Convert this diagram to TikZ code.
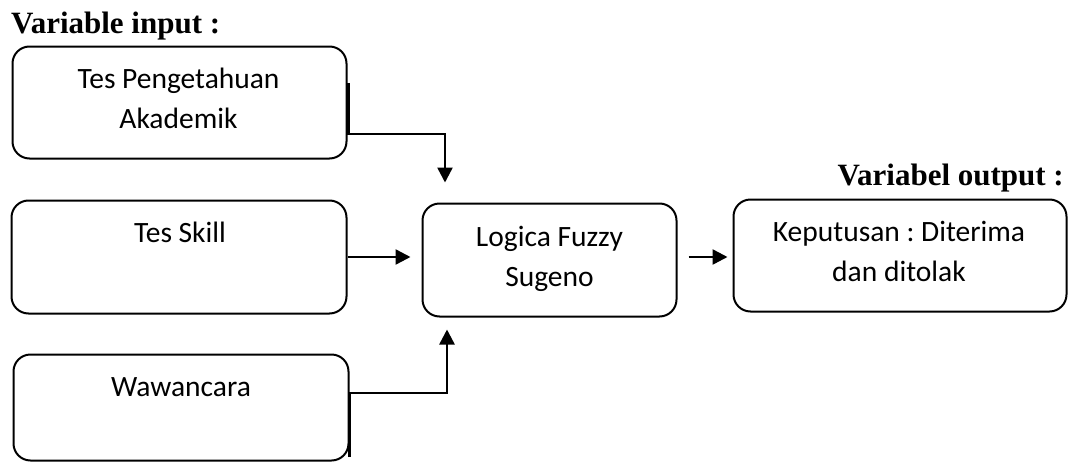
\documentclass[tikz,border=0pt]{standalone}
\usepackage{fontspec}
\setmainfont{Carlito}
\newfontfamily\headfont{Liberation Serif}
\usetikzlibrary{arrows.meta,calc}
\frenchspacing

\tikzset{
  box/.style={draw=black, line width=2pt, rounded corners=17pt, inner sep=0pt},
  boxtext/.style={inner sep=0pt, anchor=base, align=center,
    font=\fontsize{29.5}{40}\selectfont},
  head/.style={inner sep=0pt, anchor=base, font=\headfont\bfseries\fontsize{31}{36}\selectfont},
  conn/.style={draw=black, line width=2.5pt, -{Triangle[width=15pt,length=15pt]}}
}

\begin{document}
\begin{tikzpicture}[x=1pt, y=-1pt]
  \useasboundingbox (0,0) rectangle (1076,463);

  % headings
  \node[head, anchor=base west] (hin) at (11,33) {Variable input :};
  \node[head, anchor=base east] (hout) at (1064,185) {Variabel output :};

  % input boxes
  \node[box, minimum width=334pt, minimum height=112pt] (b1) at (179.5,102.5) {};
  \node[box, minimum width=335pt, minimum height=113pt] (b2) at (179,257) {};
  \node[box, minimum width=335pt, minimum height=106pt] (b3) at (181,407.5) {};

  % processing and output boxes
  \node[box, minimum width=254pt, minimum height=113pt] (c) at (549.5,260) {};
  \node[box, minimum width=333pt, minimum height=112pt] (r) at (900,255.5) {};

  % box labels; the base anchor sits on the last line's baseline
  \node[boxtext] (t1) at ($(b1.north)+(-1,83)$) {Tes Pengetahuan\\Akademik};
  \node[boxtext] (t2) at ($(b2.north)+(1,43)$) {Tes Skill};
  \node[boxtext] (t3) at ($(b3.north)+(0,43)$) {Wawancara};
  \node[boxtext] (tc) at ($(c.north)+(0,84)$) {Logica Fuzzy\\Sugeno};
  \node[boxtext] (tr) at ($(r.north)+(-1,83)$) {Keputusan : Diterima\\dan ditolak};

  % arrow end points near the fuzzy box
  \coordinate (j1) at ($(c.north)+(-104.5,-20)$);
  \coordinate (j3) at ($(c.south)+(-102.5,12)$);

  % connectors
  \draw[conn] ($(b1.east)+(1,-19.5)$) -- ($(b1.east)+(1,31.5)$) -| (j1);
  \draw[conn] (b2.east) -- ($(c.west |- b2.east)+(-11,0)$);
  \draw[conn] ($(c.east)+(11,-3)$) -- ($(r.west)+(-5,1.5)$);
  \draw[conn] ($(b3.east)+(0,49.5)$) -- ($(b3.east)+(0,-14.5)$) -| (j3);
\end{tikzpicture}
\end{document}
